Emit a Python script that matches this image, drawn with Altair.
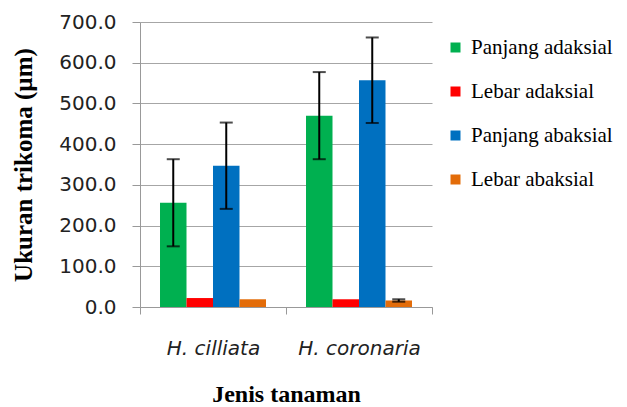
import altair as alt
import pandas as pd

categories = ["H. cilliata", "H. coronaria"]
series = ["Panjang adaksial", "Lebar adaksial", "Panjang abaksial", "Lebar abaksial"]
colors = ["#00B050", "#FF0000", "#0070C0", "#E36C09"]
values = {
    "H. cilliata": [256, 22, 347, 19],
    "H. coronaria": [470, 19, 557, 16],
}
errors = {
    "H. cilliata": [107, 0, 106, 0],
    "H. coronaria": [107, 0, 105, 3],
}

rows = []
for c in categories:
    for i, s in enumerate(series):
        rows.append({"cat": c, "series": s, "value": values[c][i], "err": errors[c][i],
                     "lo": values[c][i] - errors[c][i], "hi": values[c][i] + errors[c][i]})
df = pd.DataFrame(rows)

xscale = alt.Scale(paddingInner=0, paddingOuter=0)
x = alt.X("cat:N", sort=categories, title="Jenis tanaman", scale=xscale,
          axis=alt.Axis(labelAngle=0, labelFont="DejaVu Sans", labelFontStyle="italic",
                        labelFontSize=20, labelColor="#222", labelPadding=24,
                        titleFont="Liberation Serif", titleFontWeight="bold", titleFontSize=24,
                        titleColor="#000", titlePadding=24,
                        domainColor="#999", tickColor="#999", tickSize=7, tickBand="extent"))
xo = alt.XOffset("series:N", sort=series,
                 scale=alt.Scale(paddingInner=0, paddingOuter=0.755))
y = alt.Y("value:Q", scale=alt.Scale(domain=[0, 700]),
          title="Ukuran trikoma (µm)",
          axis=alt.Axis(values=[0, 100, 200, 300, 400, 500, 600, 700], format=".1f",
                        labelFont="DejaVu Sans", labelFontSize=20, labelColor="#222",
                        labelPadding=16, tickSize=8, tickColor="#999", domainColor="#999",
                        gridColor="#A6A6A6", titleFont="Liberation Serif", titleFontWeight="bold",
                        titleFontSize=25, titleColor="#000", titlePadding=22))

bars = alt.Chart(df).mark_bar().encode(
    x=x, xOffset=xo, y=y,
    color=alt.Color("series:N", sort=series,
                    scale=alt.Scale(domain=series, range=colors),
                    legend=alt.Legend(title=None, orient="none", legendX=305, legendY=15,
                                      symbolType="square", symbolSize=100, symbolStrokeWidth=0,
                                      symbolOffset=0, labelOffset=5,
                                      labelFont="Liberation Serif", labelFontSize=21,
                                      labelColor="#000", rowPadding=22, labelLimit=300)),
)

eb = alt.Chart(df).transform_filter("datum.err > 0")
rule = eb.mark_rule(color="black", strokeWidth=2).encode(
    x=alt.X("cat:N", sort=categories, scale=xscale), xOffset=xo, y="lo:Q", y2="hi:Q")
cap_hi = eb.mark_tick(color="black", thickness=2, size=13).encode(
    x=alt.X("cat:N", sort=categories, scale=xscale), xOffset=xo, y="hi:Q")
cap_lo = eb.mark_tick(color="black", thickness=2, size=13).encode(
    x=alt.X("cat:N", sort=categories, scale=xscale), xOffset=xo, y="lo:Q")

chart = alt.layer(bars, rule, cap_hi, cap_lo).properties(
    width=292, height=285,
    autosize=alt.AutoSizeParams(type="none"),
    padding={"left": 132, "top": 14, "right": 187, "bottom": 99},
).configure_view(stroke=None).configure_axisX(grid=False)

chart.save("out.html", embed_options={"renderer": "svg", "actions": False})
